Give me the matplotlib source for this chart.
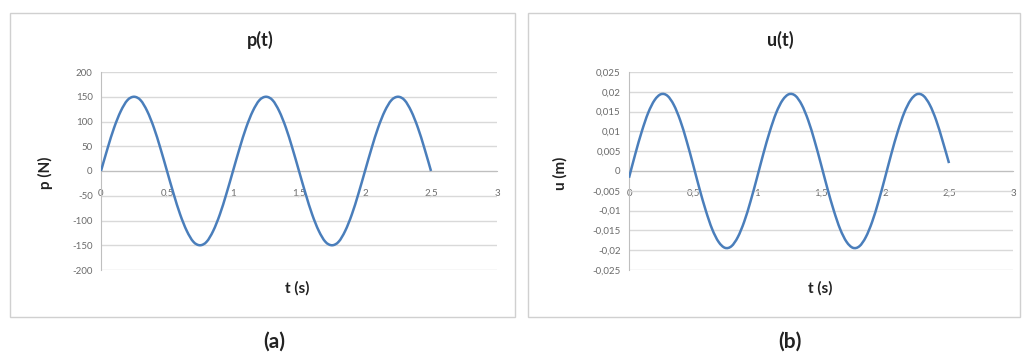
import numpy as np
import matplotlib
matplotlib.use("Agg")
import matplotlib.pyplot as plt
from matplotlib.patches import Rectangle, PathPatch
from matplotlib.path import Path
from matplotlib.ticker import FuncFormatter, MultipleLocator

plt.rcParams['font.family'] = ['Lato', 'DejaVu Sans']

# time samples (s), read every 0.05 s off the curves
t = [0.00, 0.05, 0.10, 0.15, 0.20, 0.25, 0.30, 0.35, 0.40, 0.45,
     0.50, 0.55, 0.60, 0.65, 0.70, 0.75, 0.80, 0.85, 0.90, 0.95,
     1.00, 1.05, 1.10, 1.15, 1.20, 1.25, 1.30, 1.35, 1.40, 1.45,
     1.50, 1.55, 1.60, 1.65, 1.70, 1.75, 1.80, 1.85, 1.90, 1.95,
     2.00, 2.05, 2.10, 2.15, 2.20, 2.25, 2.30, 2.35, 2.40, 2.45,
     2.50]

# load p(t) in N
p = [0, 46, 88, 121, 143, 150, 143, 121, 88, 46,
     0, -46, -88, -121, -143, -150, -143, -121, -88, -46,
     0, 46, 88, 121, 143, 150, 143, 121, 88, 46,
     0, -46, -88, -121, -143, -150, -143, -121, -88, -46,
     0, 46, 88, 121, 143, 150, 143, 121, 88, 46,
     0]

# displacement u(t) in m
u = [-0.0017, 0.0044, 0.0100, 0.0147, 0.0179, 0.0194, 0.0190, 0.0167, 0.0128, 0.0076,
     0.0017, -0.0044, -0.0100, -0.0147, -0.0179, -0.0194, -0.0190, -0.0167, -0.0128, -0.0076,
     -0.0017, 0.0044, 0.0100, 0.0147, 0.0179, 0.0194, 0.0190, 0.0167, 0.0128, 0.0076,
     0.0017, -0.0044, -0.0100, -0.0147, -0.0179, -0.0194, -0.0190, -0.0167, -0.0128, -0.0076,
     -0.0017, 0.0044, 0.0100, 0.0147, 0.0179, 0.0194, 0.0190, 0.0167, 0.0128, 0.0076,
     0.0020]

line_color = '#4a7ebb'
grid_color = '#d9d9d9'
text_color = '#6b6b6b'

W, H = 1022, 360
fig = plt.figure(figsize=(W / 100, H / 100), dpi=100)


def fx(px):
    return px / W


def fy(py):
    return 1 - py / H


def comma_fmt(v, pos):
    s = f"{round(v, 6):g}"
    if s == '-0':
        s = '0'
    return s.replace('.', ',')


def smooth_path(x, y):
    # Excel-style smoothed line: Catmull-Rom segments as cubic Beziers
    x = np.asarray(x, float)
    y = np.asarray(y, float)
    verts = [(x[0], y[0])]
    codes = [Path.MOVETO]
    n = len(x)
    for i in range(n - 1):
        i0 = max(i - 1, 0)
        i3 = min(i + 2, n - 1)
        c1 = (x[i] + (x[i + 1] - x[i0]) / 6, y[i] + (y[i + 1] - y[i0]) / 6)
        c2 = (x[i + 1] - (x[i3] - x[i]) / 6, y[i + 1] - (y[i3] - y[i]) / 6)
        verts += [c1, c2, (x[i + 1], y[i + 1])]
        codes += [Path.CURVE4] * 3
    return Path(verts, codes)


def make_panel(x0, x1, y, ymax, ystep, title, ylabel, title_x, ylabel_x, xlabel_x):
    ax = fig.add_axes([fx(x0), fy(270), fx(x1 - x0), fy(72) - fy(270)])
    ax.add_patch(PathPatch(smooth_path(t, y), facecolor='none',
                           edgecolor=line_color, linewidth=1.8, zorder=3))
    ax.set_xlim(0, 3)
    ax.set_ylim(-ymax, ymax)
    ax.xaxis.set_major_locator(MultipleLocator(0.5))
    ax.yaxis.set_major_locator(MultipleLocator(ystep))
    ax.xaxis.set_major_formatter(FuncFormatter(comma_fmt))
    ax.yaxis.set_major_formatter(FuncFormatter(comma_fmt))
    ax.yaxis.grid(True, color=grid_color, linewidth=1.0)
    ax.set_axisbelow(True)
    for s in ['top', 'right']:
        ax.spines[s].set_visible(False)
    ax.spines['bottom'].set_position(('data', 0))
    ax.spines['bottom'].set_color('#bfbfbf')
    ax.spines['left'].set_color('#bfbfbf')
    ax.tick_params(axis='both', length=0, labelsize=7, colors=text_color)
    ax.tick_params(axis='x', pad=13)
    ax.tick_params(axis='y', pad=6)
    fig.text(fx(title_x), fy(40), title, ha='center', va='center',
             fontsize=13, fontweight='bold', color='#222222')
    fig.text(fx(ylabel_x), fy(173), ylabel, ha='center', va='center', rotation=90,
             fontsize=11, fontweight='bold', color='#222222')
    fig.text(fx(xlabel_x), fy(288), 't (s)', ha='center', va='center',
             fontsize=11, fontweight='bold', color='#222222')
    return ax


make_panel(101, 497, p, 200, 50, 'p(t)', 'p (N)', 260, 45, 297)
make_panel(629, 1013, u, 0.025, 0.005, 'u(t)', 'u (m)', 780, 560, 820)

# panel frames
for x0, x1 in [(10, 515), (528, 1020)]:
    fig.patches.append(Rectangle((fx(x0), fy(317)), fx(x1 - x0), fy(13) - fy(317),
                                 transform=fig.transFigure, fill=False,
                                 edgecolor='#d0d0d0', linewidth=1.0))

fig.text(fx(274), fy(342), '(a)', ha='center', va='center', fontsize=15,
         fontweight='bold', color='#222222')
fig.text(fx(790), fy(342), '(b)', ha='center', va='center', fontsize=15,
         fontweight='bold', color='#222222')

fig.savefig('out.png', dpi=100, facecolor='white')
